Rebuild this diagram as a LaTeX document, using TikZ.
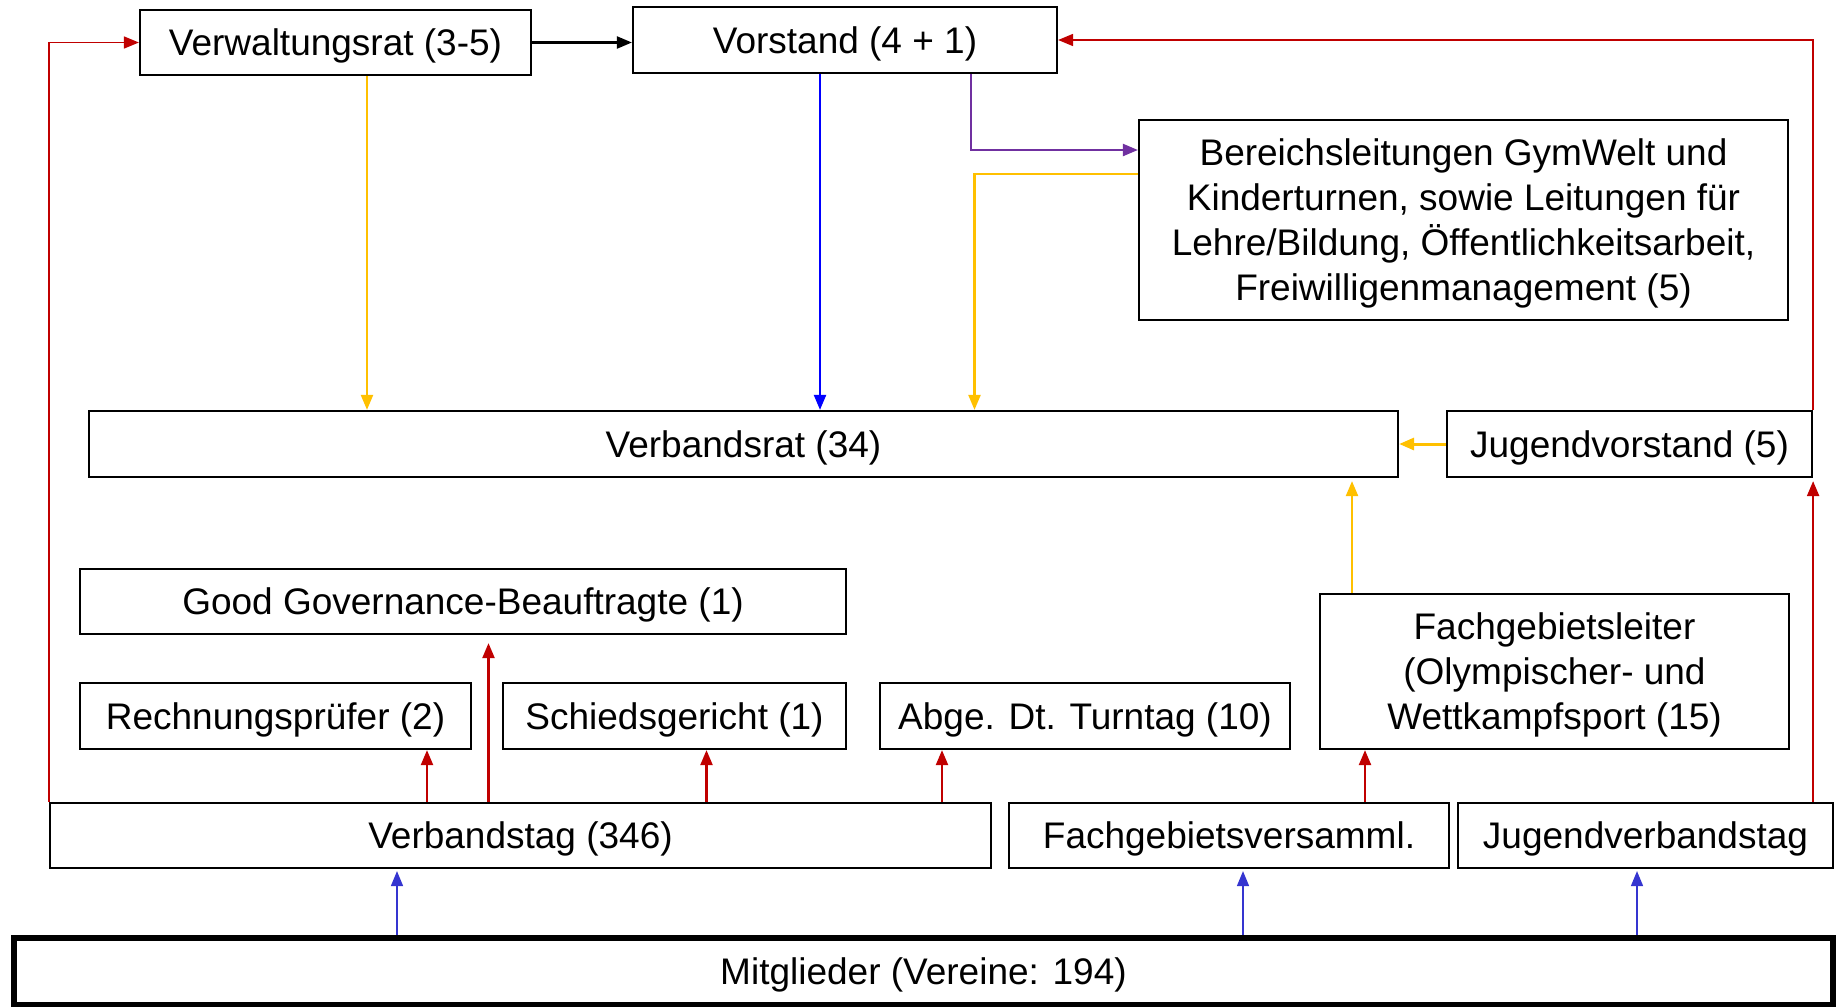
\documentclass[tikz,border=0pt]{standalone}
\usepackage{fontspec}
\setmainfont{Liberation Sans}
\usepackage{tikz}
\usetikzlibrary{calc,arrows.meta}
\definecolor{rotpfeil}{HTML}{C00000}
\definecolor{gelbpfeil}{HTML}{FFC000}
\definecolor{blaupfeil}{HTML}{0000FF}
\definecolor{mitgliedblau}{HTML}{3535D0}
\definecolor{lilapfeil}{HTML}{7030A0}
\tikzset{
	orgbox/.style={draw, rectangle, line width=1.1pt, inner sep=0pt, align=center, text depth=0pt, font=\fontsize{18.5}{22.5}\selectfont},
	pfeil/.style={line width=1.1pt, -{Triangle[length=7.5pt,width=6pt]}},
}
\def\orgnode[#1](#2)(#3,#4)(#5x#6)#7{\node[orgbox,#1,minimum width=#5*0.5pt,minimum height=#6*0.5pt] (#2) at (#3,#4) {#7};}

\begin{document}
\begin{tikzpicture}[x=0.5pt,y=-0.5pt]
		%%%%% START %%%%%
		\useasboundingbox (0,0) rectangle (1843,1007);
		
		\orgnode[](verwaltungsrat)(335.5,42.5)(391x65){Verwaltungsrat (3-5)}
		\orgnode[](vorstand)(845,40)(424x66){Vorstand (4 + 1)}
		\orgnode[](bereich)(1463.5,220)(649x200){Bereichsleitungen GymWelt und\\Kinderturnen, sowie Leitungen für\\Lehre/Bildung, Öffentlichkeitsarbeit,\\Freiwilligenmanagement (5)}
		
		\orgnode[](verbandsrat)(743.5,444)(1309x66){Verbandsrat (34)}
		\orgnode[](jugendvorstand)(1629.5,444)(365x66){Jugendvorstand (5)}
		
		\orgnode[](goodgov)(463,601.5)(766x65){Good Governance-Beauftragte (1)}
		\orgnode[](rechnung)(275.5,716)(391x66){Rechnungsprüfer (2)}
		\orgnode[](schied)(674.5,716)(343x66){Schiedsgericht (1)}
		\orgnode[](abge)(1085,716)(410x66){Abge. Dt. Turntag (10)}
		\orgnode[](fachleiter)(1554.5,671.5)(469x155){Fachgebietsleiter\\(Olympischer- und\\Wettkampfsport (15)}
		
		\orgnode[](verbandstag)(520.5,835.5)(941x65){Verbandstag (346)}
		\orgnode[](fachvers)(1229,835.5)(440x65){Fachgebietsversamml.}
		\orgnode[](jugendtag)(1645.5,835.5)(375x65){Jugendverbandstag}
		
		\orgnode[line width=2.8pt](mitglieder)(923.5,971.5)(1819x67){Mitglieder (Vereine: 194)}
		
		% Hilfspunkte
		\coordinate (vr-gelb) at ($(verwaltungsrat.south)+(31.5,0)$);
		\coordinate (vs-blau) at ($(vorstand.south)+(-25,0)$);
		\coordinate (vs-lila) at ($(vorstand.south)+(126,0)$);
		\coordinate (br-lila) at ($(bereich.west)+(0,-70)$);
		\coordinate (br-gelb) at ($(bereich.west)+(0,-46)$);
		\coordinate (vb-gelb) at ($(verbandsrat.north)+(231,0)$);
		\coordinate (fl-gelb) at ($(fachleiter.north)+(-202.5,0)$);
		\coordinate (vt-rot1) at ($(verbandstag.north)+(-93.5,0)$);
		\coordinate (vt-rot2) at ($(verbandstag.north)+(-32,0)$);
		\coordinate (vt-rot3) at ($(verbandstag.north)+(186,0)$);
		\coordinate (vt-rot4) at ($(verbandstag.north)+(421.5,0)$);
		\coordinate (fv-rot) at ($(fachvers.north)+(136,0)$);
		\coordinate (mg-blau1) at ($(mitglieder.north)+(-526.5,0)$);
		\coordinate (mg-blau2) at ($(mitglieder.north)+(319.5,0)$);
		\coordinate (mg-blau3) at ($(mitglieder.north)+(713.5,0)$);
		
		% oben
		\draw[pfeil, rotpfeil, line width=0.8pt] (verbandstag.north west) |- (verwaltungsrat.west);
		\draw[pfeil, black] (verwaltungsrat.east) -- (verwaltungsrat.east -| vorstand.west);
		\draw[pfeil, rotpfeil, line width=0.8pt] (jugendvorstand.north east) |- (vorstand.east);
		\draw[pfeil, lilapfeil] (vs-lila) |- (br-lila);
		
		\draw[pfeil, gelbpfeil] (vr-gelb) -- (vr-gelb |- verbandsrat.north);
		\draw[pfeil, blaupfeil] (vs-blau) -- (vs-blau |- verbandsrat.north);
		\draw[pfeil, gelbpfeil] (br-gelb) -| (vb-gelb);
		\draw[pfeil, gelbpfeil, line width=1.5pt] (jugendvorstand.west) -- (verbandsrat.east);
		\draw[pfeil, gelbpfeil, shorten >=1.5pt] (fl-gelb) -- (fl-gelb |- verbandsrat.south);
		\draw[pfeil, rotpfeil, shorten >=1.5pt] (jugendvorstand.south east |- jugendtag.north) -- (jugendvorstand.south east);
		
		% Verbandstag
		\draw[pfeil, rotpfeil] (vt-rot1) -- (vt-rot1 |- rechnung.south);
		\draw[pfeil, rotpfeil, shorten >=4pt] (vt-rot2) -- (vt-rot2 |- goodgov.south);
		\draw[pfeil, rotpfeil] (vt-rot3) -- (vt-rot3 |- schied.south);
		\draw[pfeil, rotpfeil] (vt-rot4) -- (vt-rot4 |- abge.south);
		\draw[pfeil, rotpfeil] (fv-rot) -- (fv-rot |- fachleiter.south);
		
		% Mitglieder
		\draw[pfeil, mitgliedblau, line width=0.8pt, shorten >=1pt] (mg-blau1) -- (mg-blau1 |- verbandstag.south);
		\draw[pfeil, mitgliedblau, line width=0.8pt, shorten >=1pt] (mg-blau2) -- (mg-blau2 |- fachvers.south);
		\draw[pfeil, mitgliedblau, line width=0.8pt, shorten >=1pt] (mg-blau3) -- (mg-blau3 |- jugendtag.south);
		
		%%%%% END %%%%%
	\end{tikzpicture}
\end{document}
